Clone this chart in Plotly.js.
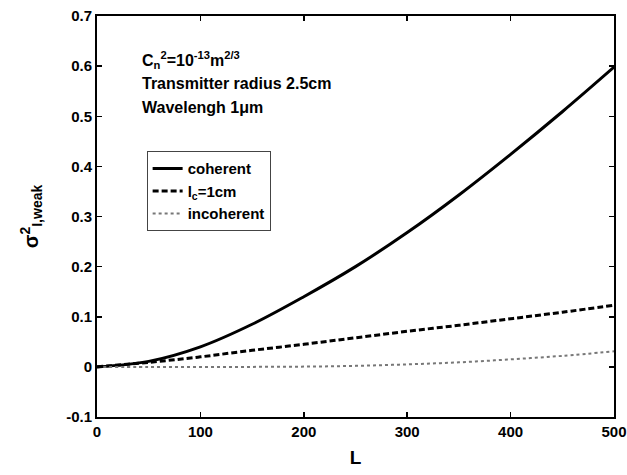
<!DOCTYPE html>
<html>
<head>
<meta charset="utf-8">
<script src="https://cdn.plot.ly/plotly-3.0.1.min.js"></script>
<style>body{margin:0;padding:0;background:#fff;} #chart{width:627px;height:475px;}</style>
</head>
<body>
<div id="chart"></div>
<script>
var L = [0, 50, 100, 150, 200, 250, 300, 350, 400, 450, 500];
var coherent = [0, 0.011, 0.040, 0.085, 0.140, 0.200, 0.268, 0.343, 0.424, 0.509, 0.598];
var partial = [0, 0.009, 0.020, 0.033, 0.045, 0.058, 0.071, 0.083, 0.096, 0.109, 0.123];
var incoherent = [0, 0, 0, 0, 0.0005, 0.002, 0.005, 0.009, 0.015, 0.022, 0.031];
var seriesNames = ['coherent', 'l<sub>c</sub>=1cm', 'incoherent'];
var xTicks = [0, 100, 200, 300, 400, 500];
var yTicks = [-0.1, 0, 0.1, 0.2, 0.3, 0.4, 0.5, 0.6, 0.7];
var yTickText = ['-0.1', '0', '0.1', '0.2', '0.3', '0.4', '0.5', '0.6', '0.7'];

var fontFam = 'Liberation Sans, Arial, sans-serif';
var traces = [
  {x: L, y: coherent, name: seriesNames[0], mode: 'lines', line: {color: '#000', width: 3, shape: 'spline', smoothing: 1}},
  {x: L, y: partial, name: seriesNames[1], mode: 'lines', line: {color: '#000', width: 3, dash: '6px,3px', shape: 'spline', smoothing: 1}},
  {x: L, y: incoherent, name: seriesNames[2], mode: 'lines', line: {color: '#777', width: 2, dash: 'dot', shape: 'spline', smoothing: 1}}
];
var axisCommon = {
  showgrid: false, zeroline: false, showline: true, linecolor: '#000', linewidth: 2,
  ticks: 'inside', ticklen: 5, tickwidth: 1.5, tickcolor: '#000', mirror: 'ticks',
  tickfont: {family: fontFam, size: 15, color: '#000', weight: 'bold'}
};
var layout = {
  width: 627, height: 475,
  margin: {l: 97, r: 13, t: 16, b: 58},
  paper_bgcolor: '#fff', plot_bgcolor: '#fff',
  font: {family: fontFam, color: '#000'},
  showlegend: true,
  legend: {
    x: 0.096, y: 0.663, xanchor: 'left', yanchor: 'top',
    bgcolor: '#fff', bordercolor: '#444', borderwidth: 1,
    font: {family: fontFam, size: 15, color: '#000', weight: 'bold'},
    tracegroupgap: 0, itemwidth: 30
  },
  xaxis: Object.assign({}, axisCommon, {
    range: [0, 500], tickvals: xTicks, ticktext: xTicks.map(String),
    title: {text: 'L', font: {family: fontFam, size: 19, color: '#000', weight: 'bold'}, standoff: 12}
  }),
  yaxis: Object.assign({}, axisCommon, {
    range: [-0.1, 0.7], tickvals: yTicks, ticktext: yTickText,
    title: {text: 'σ<sup>2</sup><sub>I,weak</sub>', font: {family: fontFam, size: 20, color: '#000', weight: 'bold'}, standoff: 22}
  }),
  annotations: [
    {xref: 'paper', yref: 'paper', x: 0.083, y: 0.89, xanchor: 'left', yanchor: 'middle', showarrow: false,
     text: 'C<sub>n</sub><sup>2</sup>=10<sup>-13</sup>m<sup>2/3</sup>', font: {family: fontFam, size: 16, color: '#000', weight: 'bold'}},
    {xref: 'paper', yref: 'paper', x: 0.083, y: 0.832, xanchor: 'left', yanchor: 'middle', showarrow: false,
     text: 'Transmitter radius 2.5cm', font: {family: fontFam, size: 16, color: '#000', weight: 'bold'}},
    {xref: 'paper', yref: 'paper', x: 0.083, y: 0.772, xanchor: 'left', yanchor: 'middle', showarrow: false,
     text: 'Wavelengh 1μm', font: {family: fontFam, size: 16, color: '#000', weight: 'bold'}}
  ]
};
Plotly.newPlot('chart', traces, layout, {displayModeBar: false, staticPlot: true});
</script>
</body>
</html>
